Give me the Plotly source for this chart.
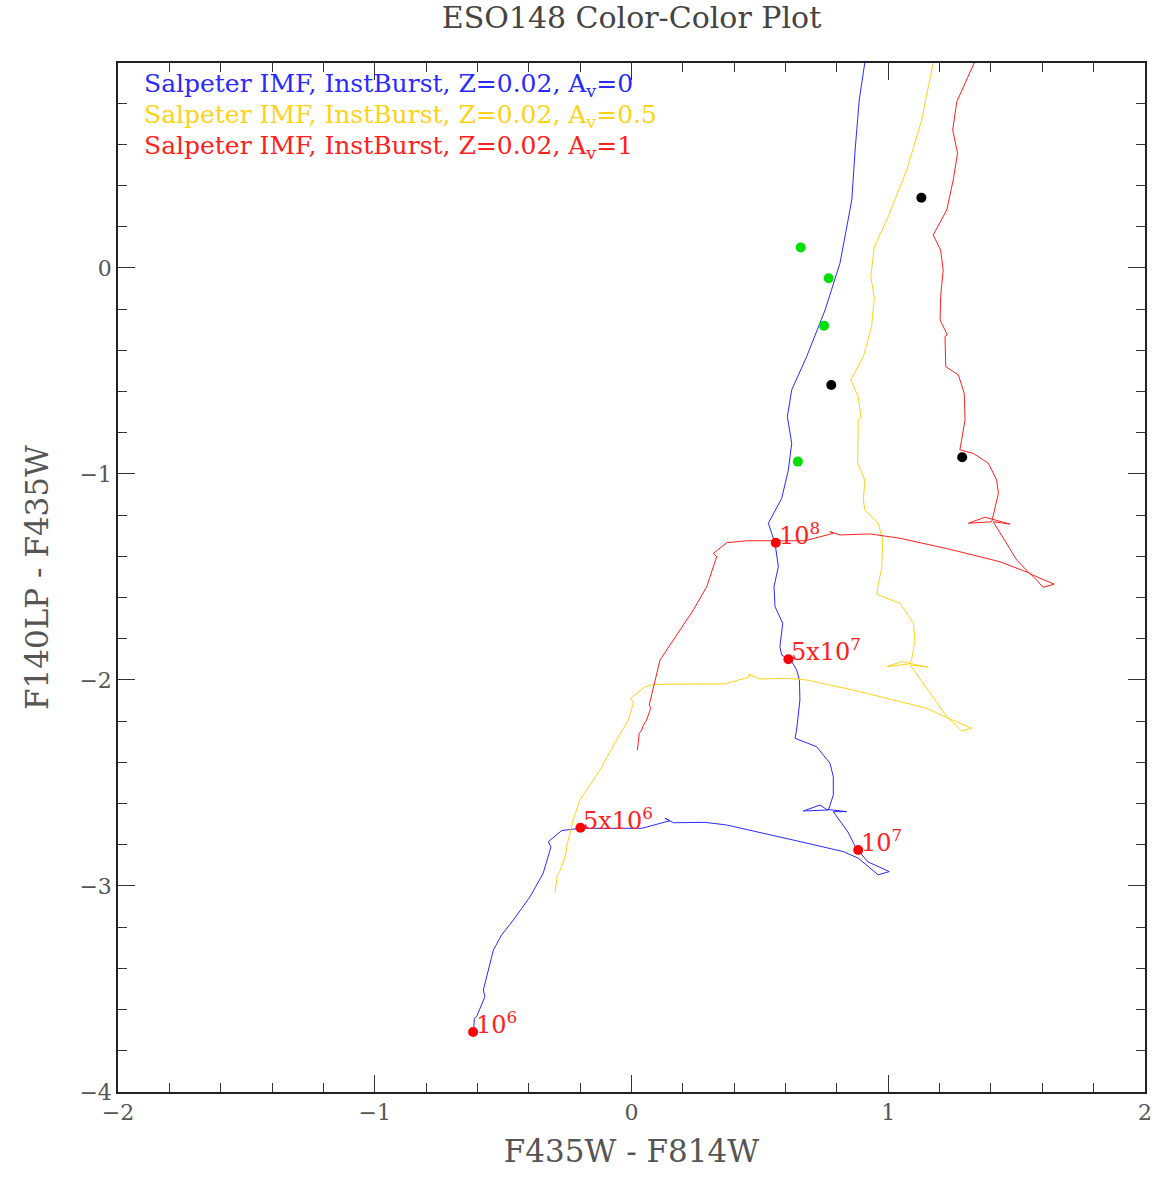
import plotly.graph_objects as go

# ---------------- data ----------------
# Av = 0 track (blue)
av0_x = [-0.616, -0.612, -0.603, -0.587, -0.571, -0.577, -0.564, -0.538, -0.506, -0.460,
         -0.395, -0.344, -0.317, -0.314, -0.324, -0.272, -0.201, 0.040, 0.150, 0.130,
         0.163, 0.286, 0.371, 0.630, 0.825, 0.883, 0.961, 1.004, 0.921, 0.874,
         0.843, 0.786, 0.838, 0.760, 0.734, 0.669, 0.767, 0.786, 0.786, 0.773,
         0.721, 0.637, 0.643, 0.656, 0.654, 0.643, 0.624, 0.611, 0.585, 0.578,
         0.589, 0.559, 0.555, 0.572, 0.563, 0.559, 0.546, 0.533, 0.585, 0.611,
         0.624, 0.607, 0.624, 0.682, 0.754, 0.812, 0.858, 0.871, 0.887, 0.909, 0.915]
av0_y = [-3.731, -3.642, -3.634, -3.586, -3.537, -3.505, -3.440, -3.311, -3.238, -3.165,
         -3.052, -2.938, -2.825, -2.809, -2.785, -2.731, -2.720, -2.720, -2.683, -2.671,
         -2.693, -2.691, -2.704, -2.777, -2.833, -2.865, -2.946, -2.930, -2.883, -2.815,
         -2.738, -2.639, -2.639, -2.628, -2.607, -2.636, -2.631, -2.558, -2.469, -2.404,
         -2.324, -2.283, -2.243, -2.097, -2.000, -1.951, -1.911, -1.899, -1.879, -1.838,
         -1.725, -1.644, -1.547, -1.450, -1.369, -1.336, -1.288, -1.239, -1.118, -0.981,
         -0.851, -0.722, -0.592, -0.431, -0.204, 0.023, 0.330, 0.573, 0.815, 0.985, 1.05]

# Av = 0.5 track (yellow)
av05_x = [-0.298, -0.289, -0.282, -0.263, -0.252, -0.255, -0.246, -0.227, -0.201, -0.149,
          -0.123, -0.058, -0.012, 0.007, -0.003, 0.053, 0.092, 0.364, 0.462, 0.455,
          0.500, 0.604, 0.682, 0.864, 1.150, 1.234, 1.325, 1.286, 1.228, 1.085,
          1.156, 1.052, 0.994, 1.081, 1.091, 1.104, 1.098, 1.046, 0.961, 0.955,
          0.975, 0.978, 0.961, 0.909, 0.903, 0.909, 0.881, 0.883, 0.894, 0.883,
          0.854, 0.903, 0.935, 0.946, 0.932, 0.946, 1.000, 1.072, 1.130, 1.156, 1.172, 1.185]
av05_y = [-3.035, -2.946, -2.937, -2.874, -2.825, -2.809, -2.777, -2.680, -2.583, -2.485,
          -2.437, -2.291, -2.194, -2.113, -2.089, -2.033, -2.021, -2.019, -1.984, -1.971,
          -1.995, -1.992, -2.000, -2.049, -2.137, -2.186, -2.234, -2.248, -2.178, -1.927,
          -1.938, -1.911, -1.935, -1.922, -1.903, -1.806, -1.725, -1.628, -1.587, -1.578,
          -1.450, -1.320, -1.239, -1.175, -1.126, -1.029, -0.948, -0.738, -0.728, -0.625,
          -0.544, -0.431, -0.285, -0.147, -0.042, 0.103, 0.249, 0.476, 0.718, 0.880, 0.985, 1.05]

# Av = 1 track (red)
av1_x = [0.023, 0.030, 0.040, 0.045, 0.059, 0.075, 0.069, 0.085, 0.111, 0.163,
         0.241, 0.293, 0.325, 0.332, 0.319, 0.371, 0.449, 0.676, 0.786, 0.773,
         0.812, 0.929, 1.046, 1.241, 1.435, 1.552, 1.604, 1.646, 1.552, 1.500,
         1.409, 1.474, 1.377, 1.312, 1.403, 1.422, 1.429, 1.422, 1.390, 1.331,
         1.279, 1.299, 1.296, 1.273, 1.224, 1.221, 1.230, 1.202, 1.204, 1.214,
         1.204, 1.175, 1.228, 1.253, 1.270, 1.251, 1.267, 1.331, 1.360]
av1_y = [-2.340, -2.259, -2.243, -2.223, -2.194, -2.137, -2.121, -2.033, -1.903, -1.806,
         -1.660, -1.547, -1.426, -1.401, -1.385, -1.334, -1.324, -1.324, -1.288, -1.280,
         -1.296, -1.291, -1.312, -1.366, -1.426, -1.482, -1.550, -1.535, -1.485, -1.417,
         -1.232, -1.243, -1.210, -1.239, -1.232, -1.126, -1.094, -1.029, -0.948, -0.900,
         -0.883, -0.738, -0.608, -0.519, -0.479, -0.333, -0.325, -0.252, -0.139, -0.010,
         0.087, 0.160, 0.282, 0.427, 0.557, 0.670, 0.807, 0.985, 1.05]

# age markers on the Av=0 track
age_x = [-0.617, -0.199, 0.883, 0.611, 0.562]
age_y = [-3.709, -2.717, -2.825, -1.899, -1.334]
age_labels = ["10<sup>6</sup>", "5x10<sup>6</sup>", "10<sup>7</sup>", "5x10<sup>7</sup>", "10<sup>8</sup>"]

# observed clusters
green_x = [0.659, 0.768, 0.750, 0.648]
green_y = [0.099, -0.050, -0.280, -0.940]
black_x = [1.129, 0.778, 1.288]
black_y = [0.341, -0.568, -0.919]

legend_labels = [
    "Salpeter IMF, InstBurst, Z=0.02, A<sub>v</sub>=0",
    "Salpeter IMF, InstBurst, Z=0.02, A<sub>v</sub>=0.5",
    "Salpeter IMF, InstBurst, Z=0.02, A<sub>v</sub>=1",
]

BLUE = "#2a2aff"
YELLOW = "#ffd21a"
RED = "#ff2020"
FONT = "DejaVu Serif"
GRAY = "#555555"

fig = go.Figure()
fig.add_trace(go.Scatter(x=av0_x, y=av0_y, mode="lines", line=dict(color=BLUE, width=1)))
fig.add_trace(go.Scatter(x=av05_x, y=av05_y, mode="lines", line=dict(color=YELLOW, width=1)))
fig.add_trace(go.Scatter(x=av1_x, y=av1_y, mode="lines", line=dict(color=RED, width=1)))
fig.add_trace(go.Scatter(x=green_x, y=green_y, mode="markers",
                         marker=dict(color="#00e000", size=10)))
fig.add_trace(go.Scatter(x=black_x, y=black_y, mode="markers",
                         marker=dict(color="black", size=10)))
fig.add_trace(go.Scatter(x=age_x, y=age_y, mode="markers",
                         marker=dict(color="#ff0000", size=10)))

annotations = []
for xv, yv, lab in zip(age_x, age_y, age_labels):
    annotations.append(dict(x=xv, y=yv, xref="x", yref="y", text=lab, showarrow=False,
                            xanchor="left", yanchor="middle", xshift=1, yshift=9,
                            font=dict(family=FONT, size=24, color="#ff2020")))
for i, (lab, col) in enumerate(zip(legend_labels, [BLUE, YELLOW, RED])):
    annotations.append(dict(x=0.023, y=0.9786 - i * 0.0301, xref="paper", yref="paper",
                            text=lab, showarrow=False, xanchor="left", yanchor="middle",
                            font=dict(family=FONT, size=25, color=col)))

axis_common = dict(
    showline=True, linecolor="#222222", linewidth=1.5, mirror="ticks",
    ticks="inside", ticklen=17, tickwidth=1, tickcolor="#333333",
    showgrid=False, zeroline=False, dtick=1,
    tickfont=dict(family=FONT, size=22, color=GRAY),
    minor=dict(ticks="inside", ticklen=9, tickwidth=1, tickcolor="#333333", dtick=0.2, showgrid=False),
)

fig.update_layout(
    width=1175, height=1182,
    margin=dict(l=118, r=30, t=63, b=90),
    paper_bgcolor="white", plot_bgcolor="white",
    showlegend=False,
    title=dict(text="ESO148 Color-Color Plot", x=0.5, xref="paper", xanchor="center",
               y=1 - 17 / 1182, yanchor="middle",
               font=dict(family=FONT, size=30, color="#444444")),
    xaxis=dict(range=[-2, 2], title=dict(text="F435W - F814W", standoff=16,
               font=dict(family=FONT, size=31, color=GRAY)), **axis_common),
    yaxis=dict(range=[-4, 0.995], title=dict(text="F140LP - F435W", standoff=22,
               font=dict(family=FONT, size=31, color=GRAY)), **axis_common),
    annotations=annotations,
)

fig.write_html("out.html")
